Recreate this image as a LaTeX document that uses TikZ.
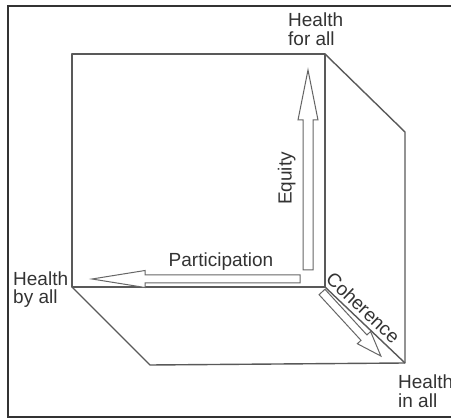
\documentclass[tikz,border=0pt]{standalone}
\usepackage{fontspec}
\setmainfont{Liberation Sans}
\begin{document}
\begin{tikzpicture}[x=1pt,y=-1pt,
  frameline/.style={draw=black!80, line width=1.8pt},
  cubeline/.style={draw=black!65, line width=1.4pt, line join=round},
  hollow/.style={draw=black!60, fill=white, line width=1pt, line join=miter},
  lbl/.style={inner sep=0pt, text=black!80, font=\fontsize{19}{18.5}\selectfont},
  hlbl/.style={lbl, align=left, anchor=north west}]
\useasboundingbox (0,0) rectangle (451,420);
% outer frame
\draw[frameline] (451,6) -- (8,6) -- (8,417) -- (451,417);
% cube corners
\coordinate (ftl) at (72,54);
\coordinate (ftr) at (325,54);
\coordinate (fbl) at (72,287);
\coordinate (fbr) at (325,287);
\coordinate (btr) at (405,132);
\coordinate (bbr) at (405,363);
\coordinate (bbl) at (150,365);
\draw[cubeline] (ftl) rectangle (fbr);
\draw[cubeline] (ftr) -- (btr) -- (bbr) -- (bbl) -- (fbl);
\draw[cubeline] (fbr) -- (bbr);
% hollow arrows
\begin{scope}[shift={(308,270)}, rotate=90]
  \draw[hollow] (0,-5) -- (150,-5) -- (150,-10) -- (200,0) -- (150,10) -- (150,5) -- (0,5) -- cycle;
\end{scope}
\begin{scope}[shift={(300,279)}, rotate=180]
  \draw[hollow] (0,-4) -- (155,-4) -- (155,-8.5) -- (208,0) -- (155,8.5) -- (155,4) -- (0,4) -- cycle;
\end{scope}
\begin{scope}[shift={(322,292)}, rotate=-47.4]
  \draw[hollow] (0,-4) -- (62,-4) -- (62,-9) -- (87,0) -- (62,9) -- (62,4) -- (0,4) -- cycle;
\end{scope}
% labels
\node[hlbl] (hfor) at (288,13) {Health\\for all};
\node[hlbl] (hby) at (13,271.5) {Health\\by all};
\node[hlbl] (hin) at (398,375) {Health\\in all};
\node[lbl, anchor=base] (part) at (221,267) {Participation};
\node[lbl, anchor=base, rotate=90] (eq) at (291.5,178.5) {Equity};
\node[lbl, anchor=base, rotate=-43.5] (coh) at (358.5,312.7) {Coherence};
\end{tikzpicture}
\end{document}
